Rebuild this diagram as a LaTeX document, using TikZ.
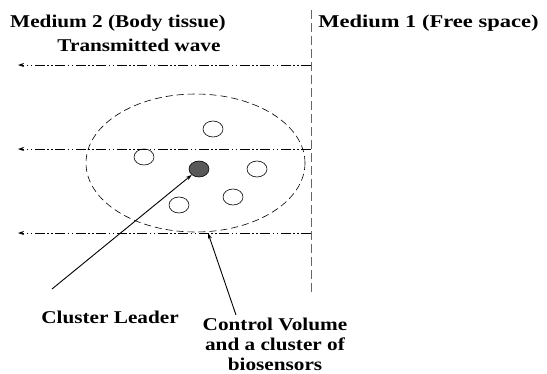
\documentclass[tikz,border=0pt]{standalone}
\usepackage{fontspec}
\setmainfont{Liberation Serif}
\usetikzlibrary{arrows.meta,shapes.geometric}
\begin{document}
\begin{tikzpicture}[x=1pt,y=-1pt,
  lbl/.style={font=\bfseries\fontsize{18}{20}\selectfont, inner sep=0pt, xscale=1.18, align=center},
  wave/.style={dash pattern=on 10pt off 2.5pt on 1.5pt off 2.5pt on 1.5pt off 2.5pt, line width=0.8pt, -{Stealth[length=6pt,width=4pt]}},
  sensor/.style={draw, ellipse, minimum width=20pt, minimum height=16pt, inner sep=0pt, line width=0.6pt},
  ptr/.style={line width=0.9pt, -{Stealth[length=6pt,width=4pt]}}]
\useasboundingbox (0,0) rectangle (547,373);
% boundary
\coordinate (btop) at (311,10);
\coordinate (bbot) at (311,293);
\draw[gray!80!black, line width=1pt, dash pattern=on 9pt off 4pt] (btop) -- (bbot);
% waves
\coordinate (w1s) at (311,65); \coordinate (w1e) at (18,65);
\coordinate (w2s) at (311,149); \coordinate (w2e) at (18,149);
\coordinate (w3s) at (311,233); \coordinate (w3e) at (18,233);
\draw[wave] (w1s) -- (w1e);
\draw[wave] (w2s) -- (w2e);
\draw[wave] (w3s) -- (w3e);
% control volume
\node[draw, ellipse, dash pattern=on 7pt off 4pt, minimum width=219pt, minimum height=138pt, line width=0.6pt] (cv) at (195.5,163) {};
\node[sensor] (s1) at (213,129) {};
\node[sensor] (s2) at (144,157) {};
\node[sensor, fill=gray!70!black] (cl) at (199,169) {};
\node[sensor] (s3) at (257,169) {};
\node[sensor] (s4) at (233,197) {};
\node[sensor] (s5) at (179,205) {};
% labels
\node[lbl, anchor=west] (m2) at (10,23) {Medium 2 (Body tissue)};
\node[lbl, anchor=west, xscale=1.06] (m1) at (318,23) {Medium 1 (Free space)};
\node[lbl] (tw) at (139,45) {Transmitted wave};
\node[lbl] (cll) at (110,317) {Cluster Leader};
\node[lbl] (cvl) at (275,344) {Control Volume\\and a cluster of\\biosensors};
% pointers
\coordinate (p1) at (52,289);
\coordinate (p2) at (236,315);
\coordinate (cvpt) at (208,233);
\draw[ptr] (p1) -- (cl.south west);
\draw[ptr] (p2) -- (cvpt);
\end{tikzpicture}
\end{document}
